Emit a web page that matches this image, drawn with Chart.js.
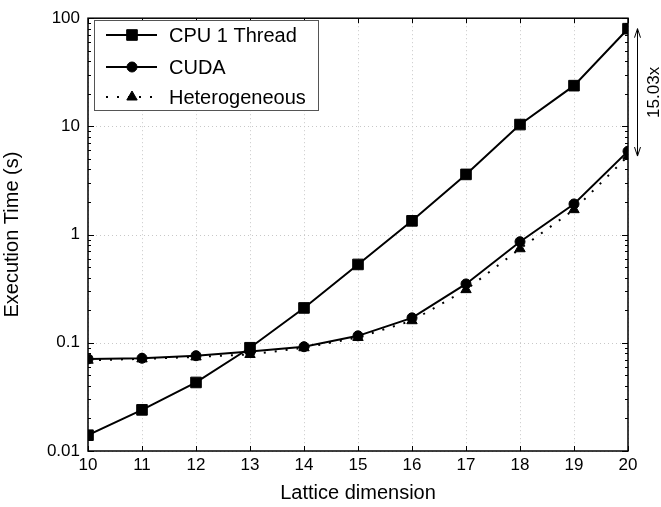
<!DOCTYPE html>
<html>
<head>
<meta charset="utf-8">
<script src="https://cdn.jsdelivr.net/npm/chart.js@4"></script>
<style>
  body { margin: 0; background: #fff; }
  canvas { display: block; }
</style>
</head>
<body>
<canvas id="chart" width="661" height="507"></canvas>
<script>
// Data
const dims = [10, 11, 12, 13, 14, 15, 16, 17, 18, 19, 20];
const cpuTimes = [0.014, 0.024, 0.043, 0.09, 0.21, 0.53, 1.34, 3.6, 10.4, 23.8, 80];
const cudaTimes = [0.071, 0.072, 0.076, 0.083, 0.092, 0.116, 0.17, 0.35, 0.86, 1.92, 5.9];
const heteroTimes = [0.069, 0.071, 0.074, 0.078, 0.09, 0.112, 0.16, 0.31, 0.74, 1.7, 5.32];
const yTicks = [0.01, 0.1, 1, 10, 100];
const speedupLabel = '15.03x';

const FONT = '"Liberation Sans", Arial, Helvetica, sans-serif';

function toPoints(vals) {
  return dims.map((d, i) => ({ x: d, y: vals[i] }));
}

// grid, frame, inward ticks, legend and speedup arrow
const decorations = {
  id: 'decorations',
  beforeDatasetsDraw(chart) {
    const { ctx, chartArea: a, scales: { x, y } } = chart;
    ctx.save();
    ctx.strokeStyle = '#c8c8c8';
    ctx.lineWidth = 1;
    ctx.setLineDash([1, 3]);
    dims.forEach(d => {
      const px = Math.round(x.getPixelForValue(d)) + 0.5;
      ctx.beginPath(); ctx.moveTo(px, a.top); ctx.lineTo(px, a.bottom); ctx.stroke();
    });
    yTicks.forEach(v => {
      const py = Math.round(y.getPixelForValue(v)) + 0.5;
      ctx.beginPath(); ctx.moveTo(a.left, py); ctx.lineTo(a.right, py); ctx.stroke();
    });
    ctx.restore();
  },
  afterDatasetsDraw(chart) {
    const { ctx, chartArea: a, scales: { x, y } } = chart;
    ctx.save();
    ctx.strokeStyle = '#000';
    ctx.lineWidth = 1.5;
    ctx.setLineDash([]);
    ctx.strokeRect(a.left, a.top, a.right - a.left, a.bottom - a.top);

    // x ticks on bottom and top
    ctx.lineWidth = 1;
    dims.forEach(d => {
      const px = Math.round(x.getPixelForValue(d)) + 0.5;
      ctx.beginPath();
      ctx.moveTo(px, a.bottom); ctx.lineTo(px, a.bottom - 5);
      ctx.moveTo(px, a.top); ctx.lineTo(px, a.top + 5);
      ctx.stroke();
    });
    // y major + minor ticks on left and right
    for (let k = 0; k < yTicks.length; k++) {
      const base = yTicks[k];
      for (let m = 1; m <= 9; m++) {
        const v = base * m;
        if (v > 100) break;
        const py = Math.round(y.getPixelForValue(v)) + 0.5;
        const len = m === 1 ? 6 : 3;
        ctx.beginPath();
        ctx.moveTo(a.left, py); ctx.lineTo(a.left + len, py);
        ctx.moveTo(a.right, py); ctx.lineTo(a.right - len, py);
        ctx.stroke();
      }
    }

    // legend
    const lx = 94, ly = 20, lw = 224, lh = 90;
    ctx.fillStyle = '#fff';
    ctx.fillRect(lx, ly, lw, lh);
    ctx.strokeStyle = '#555';
    ctx.lineWidth = 1;
    ctx.strokeRect(lx + 0.5, ly + 0.5, lw, lh);
    const rows = [35, 67, 97];
    chart.data.datasets.forEach((ds, i) => {
      const ry = rows[i];
      ctx.strokeStyle = '#000';
      ctx.fillStyle = '#000';
      ctx.lineWidth = 2;
      ctx.setLineDash(ds.borderDash || []);
      ctx.beginPath(); ctx.moveTo(106, ry); ctx.lineTo(157, ry); ctx.stroke();
      ctx.setLineDash([]);
      ctx.lineWidth = 1;
      Chart.helpers.drawPoint(ctx, { pointStyle: ds.pointStyle, radius: ds.pointRadius, borderWidth: 1 }, 132, ry);
      ctx.font = '20px ' + FONT;
      ctx.textAlign = 'left';
      ctx.textBaseline = 'middle';
      ctx.fillText(ds.label, 169, ry + 1);
    });

    // speedup arrow at the last point
    const last = dims.length - 1;
    const y1 = y.getPixelForValue(cpuTimes[last]);
    const y2 = y.getPixelForValue(heteroTimes[last]);
    const ax = a.right + 9.5;
    ctx.strokeStyle = '#000';
    ctx.lineWidth = 1;
    ctx.beginPath();
    ctx.moveTo(ax, y1); ctx.lineTo(ax, y2);
    ctx.moveTo(ax - 3, y1 + 9); ctx.lineTo(ax, y1); ctx.lineTo(ax + 3, y1 + 9);
    ctx.moveTo(ax - 3, y2 - 9); ctx.lineTo(ax, y2); ctx.lineTo(ax + 3, y2 - 9);
    ctx.stroke();
    ctx.translate(a.right + 26, (y1 + y2) / 2);
    ctx.rotate(-Math.PI / 2);
    ctx.fillStyle = '#000';
    ctx.font = '17px ' + FONT;
    ctx.textAlign = 'center';
    ctx.textBaseline = 'middle';
    ctx.fillText(speedupLabel, 0, 0);
    ctx.restore();
  }
};

const ctx = document.getElementById('chart').getContext('2d');
new Chart(ctx, {
  type: 'line',
  data: {
    datasets: [
      {
        label: 'CPU 1 Thread',
        data: toPoints(cpuTimes),
        borderColor: '#000',
        backgroundColor: '#000',
        borderWidth: 2,
        pointStyle: 'rect',
        pointRadius: 7.5,
        pointBorderWidth: 1
      },
      {
        label: 'CUDA',
        data: toPoints(cudaTimes),
        borderColor: '#000',
        backgroundColor: '#000',
        borderWidth: 2,
        pointStyle: 'circle',
        pointRadius: 5,
        pointBorderWidth: 1
      },
      {
        label: 'Heterogeneous',
        data: toPoints(heteroTimes),
        borderColor: '#000',
        backgroundColor: '#000',
        borderWidth: 2,
        borderDash: [2, 9],
        pointStyle: 'triangle',
        pointRadius: 6,
        pointBorderWidth: 1
      }
    ]
  },
  options: {
    responsive: false,
    animation: false,
    devicePixelRatio: 1,
    layout: { padding: { top: 15, right: 33, left: 0, bottom: 0 } },
    plugins: { legend: { display: false }, tooltip: { enabled: false } },
    scales: {
      x: {
        type: 'linear',
        min: 10,
        max: 20,
        afterBuildTicks: s => { s.ticks = dims.map(v => ({ value: v })); },
        afterFit: s => { s.height = 56; },
        grid: { display: false, drawTicks: false },
        border: { display: false },
        ticks: { color: '#000', font: { family: FONT, size: 17 }, padding: 4 },
        title: { display: true, text: 'Lattice dimension', color: '#000', font: { family: FONT, size: 20 }, padding: { top: 0, bottom: 2 } }
      },
      y: {
        type: 'logarithmic',
        min: 0.01,
        max: 100,
        afterBuildTicks: s => { s.ticks = yTicks.map(v => ({ value: v })); },
        afterFit: s => { s.width = 88; },
        grid: { display: false, drawTicks: false },
        border: { display: false },
        ticks: { color: '#000', font: { family: FONT, size: 17 }, padding: 8, callback: v => String(v) },
        title: { display: true, text: 'Execution Time (s)', color: '#000', font: { family: FONT, size: 20 }, padding: { top: 0, bottom: 0 } }
      }
    }
  },
  plugins: [decorations]
});
</script>
</body>
</html>
